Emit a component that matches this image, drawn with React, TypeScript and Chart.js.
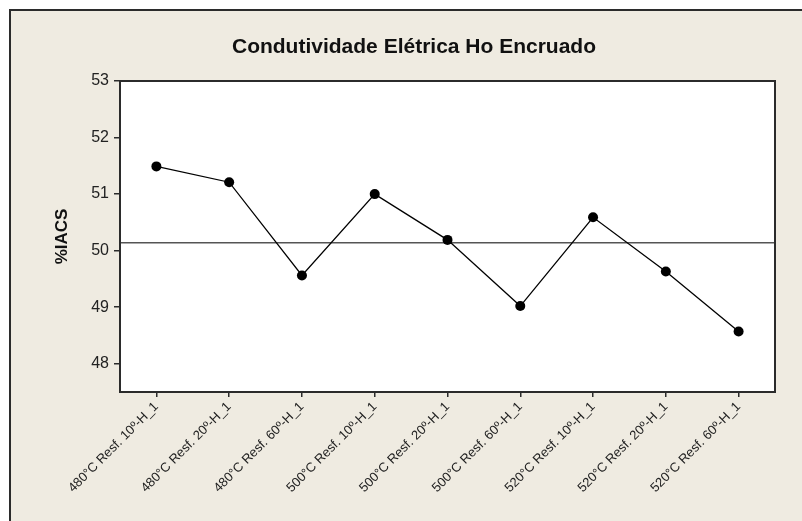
import React, { useEffect, useRef } from "react";
import { Chart, registerables } from "chart.js";

Chart.register(...registerables);

const TITLE = "Condutividade Elétrica Ho Encruado";
const Y_LABEL = "%IACS";
const CATEGORIES = [
  "480°C Resf. 10º-H_1",
  "480°C Resf. 20º-H_1",
  "480°C Resf. 60º-H_1",
  "500°C Resf. 10º-H_1",
  "500°C Resf. 20º-H_1",
  "500°C Resf. 60º-H_1",
  "520°C Resf. 10º-H_1",
  "520°C Resf. 20º-H_1",
  "520°C Resf. 60º-H_1",
];
const VALUES = [51.49, 51.21, 49.56, 51.0, 50.19, 49.02, 50.59, 49.63, 48.57];
const Y_TICKS = [48, 49, 50, 51, 52, 53];
const Y_MIN = 47.5;
const Y_MAX = 53;
const MEAN = VALUES.reduce((a, b) => a + b, 0) / VALUES.length;

const FRAME_BG = "#EFEBE1";
const DARK = "#2b2b2b";
const FONT = "'Liberation Sans', Arial, sans-serif";

const decorPlugin = {
  id: "decor",
  beforeDraw(chart: any) {
    const { ctx, width, height, chartArea } = chart;
    ctx.save();
    ctx.fillStyle = "#ffffff";
    ctx.fillRect(0, 0, width, height);
    ctx.fillStyle = FRAME_BG;
    ctx.fillRect(10, 10, width + 20, height + 20);
    ctx.strokeStyle = DARK;
    ctx.lineWidth = 2;
    ctx.strokeRect(10, 10, width + 20, height + 20);
    ctx.fillStyle = "#ffffff";
    ctx.fillRect(chartArea.left, chartArea.top, chartArea.right - chartArea.left, chartArea.bottom - chartArea.top);
    ctx.restore();
  },
  beforeDatasetsDraw(chart: any) {
    const { ctx, chartArea, scales } = chart;
    const y = scales.y.getPixelForValue(MEAN);
    ctx.save();
    ctx.strokeStyle = "#555555";
    ctx.lineWidth = 1.5;
    ctx.beginPath();
    ctx.moveTo(chartArea.left, y);
    ctx.lineTo(chartArea.right, y);
    ctx.stroke();
    ctx.restore();
  },
  afterDraw(chart: any) {
    const { ctx, chartArea } = chart;
    ctx.save();
    ctx.strokeStyle = DARK;
    ctx.lineWidth = 2;
    ctx.strokeRect(chartArea.left, chartArea.top, chartArea.right - chartArea.left, chartArea.bottom - chartArea.top);
    ctx.fillStyle = "#111111";
    ctx.font = `bold 21px ${FONT}`;
    ctx.textAlign = "center";
    ctx.textBaseline = "middle";
    ctx.fillText(TITLE, 414, 47);
    ctx.translate(62, (chartArea.top + chartArea.bottom) / 2);
    ctx.rotate(-Math.PI / 2);
    ctx.font = `bold 17px ${FONT}`;
    ctx.fillText(Y_LABEL, 0, 0);
    ctx.restore();
  },
};

export default function App() {
  const ref = useRef<HTMLCanvasElement | null>(null);
  useEffect(() => {
    if (!ref.current) return;
    const chart = new Chart(ref.current, {
      type: "line",
      data: {
        labels: CATEGORIES,
        datasets: [
          {
            data: VALUES,
            borderColor: "#000000",
            backgroundColor: "#000000",
            borderWidth: 1.3,
            pointRadius: 5,
            pointBackgroundColor: "#000000",
            pointBorderWidth: 0,
            tension: 0,
          },
        ],
      },
      options: {
        responsive: false,
        animation: false,
        devicePixelRatio: 1,
        layout: { padding: { top: 81, right: 27, left: 0, bottom: 0 } },
        plugins: { legend: { display: false }, tooltip: { enabled: false }, title: { display: false } },
        scales: {
          x: {
            type: "category",
            offset: true,
            border: { display: false },
            grid: { drawOnChartArea: false, drawTicks: true, tickLength: 5, color: DARK, lineWidth: 1.5 },
            ticks: {
              autoSkip: false,
              maxRotation: 45,
              minRotation: 45,
              padding: 2,
              color: "#222222",
              font: { family: FONT, size: 13 },
            },
            afterFit: (s: any) => {
              s.height = 129;
            },
          },
          y: {
            min: Y_MIN,
            max: Y_MAX,
            border: { display: false },
            grid: { drawOnChartArea: false, drawTicks: true, tickLength: 6, color: DARK, lineWidth: 1.5 },
            ticks: {
              padding: 5,
              color: "#222222",
              font: { family: FONT, size: 16 },
            },
            afterBuildTicks: (s: any) => {
              s.ticks = Y_TICKS.map((v) => ({ value: v }));
            },
            afterFit: (s: any) => {
              s.width = 120;
            },
          },
        },
      },
      plugins: [decorPlugin],
    });
    return () => chart.destroy();
  }, []);
  return (
    <div style={{ position: "absolute", left: 0, top: 0, width: 802, height: 521 }}>
      <canvas ref={ref} width={802} height={521} style={{ display: "block" }} />
    </div>
  );
}
